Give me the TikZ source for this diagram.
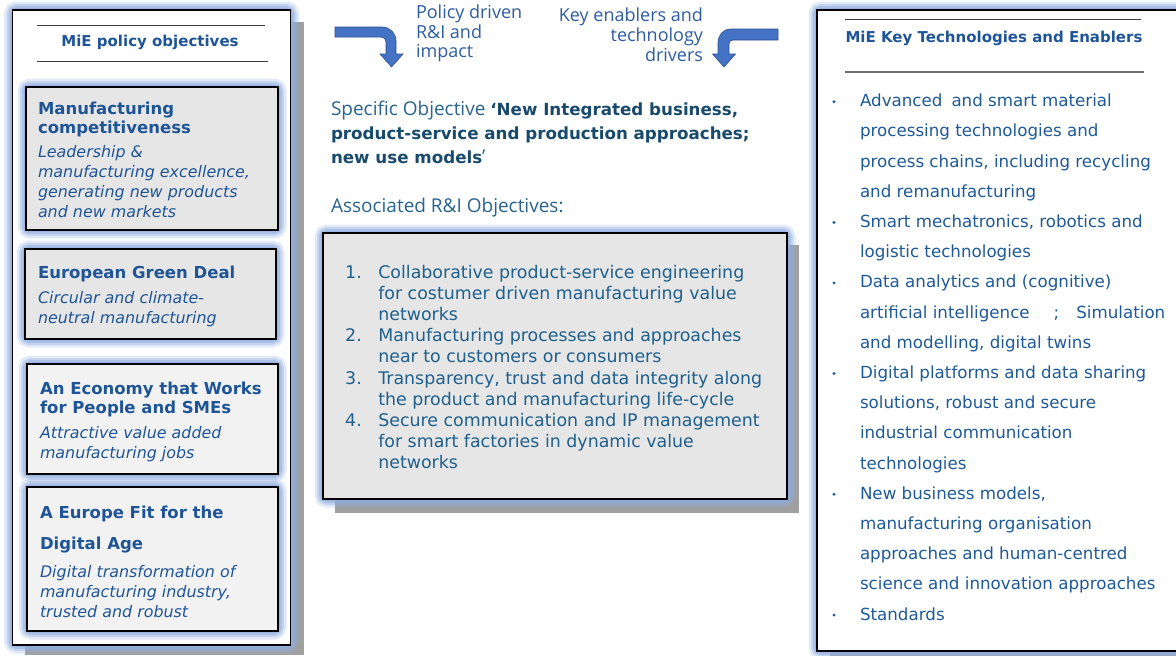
\documentclass[tikz,border=0pt]{standalone}
\usepackage{fontspec}
\setmainfont{DejaVu Sans}
\newfontfamily\segfont{Open Sans}
\definecolor{tblue}{RGB}{31,85,150}
\definecolor{lblue}{RGB}{31,90,152}
\definecolor{mtxt}{RGB}{31,96,140}
\definecolor{sobj}{RGB}{24,74,108}
\definecolor{sobjr}{RGB}{40,100,140}
\definecolor{lab}{RGB}{46,92,160}
\definecolor{arrf}{RGB}{68,114,196}
\definecolor{arrd}{RGB}{47,82,143}
\definecolor{glowc}{RGB}{145,175,225}
\definecolor{shadc}{RGB}{160,160,160}
\definecolor{boxg}{RGB}{230,230,230}
\definecolor{boxl}{RGB}{242,242,242}
\definecolor{hline}{RGB}{60,60,60}
\newcommand{\FS}[2]{\fontsize{#1}{#2}\selectfont}
\newcommand{\glowrect}[4]{\foreach \gw/\go in {17/0.25,12/0.35,8/0.5,4/0.65}{\draw[glowc,line width=\gw pt,opacity=\go,rounded corners=4pt] (#1,#2) rectangle (#3,#4);}}
\begin{document}
\begin{tikzpicture}[x=1pt,y=-1pt,
  txt/.style={anchor=north west,inner sep=0pt,outer sep=0pt,align=left},
  boxline/.style={draw=black,line width=1.2pt},
  outline/.style={draw=black,line width=1.5pt},
  hl/.style={draw=hline,line width=0.9pt},
  btitle/.style={txt,text=tblue,font=\bfseries\FS{16.5}{19.5}},
  bdesc/.style={txt,text=tblue,font=\itshape\FS{15.9}{20}},
  arrowshape/.style={fill=arrf,draw=arrd,line width=0.6pt}]
\useasboundingbox (0,0) rectangle (1176,656);
\fill[white] (0,0) rectangle (1176,656);

% ---------------- left panel ----------------
\fill[shadc] (25,22) rectangle (304,655);
\glowrect{12.5}{10}{290.5}{645}
\draw[outline,fill=white] (12.5,10) rectangle (290.5,645);
\draw[hl] (37,25) -- (265,25);
\draw[hl] (37,61) -- (268,61);
\node[anchor=base,inner sep=0pt,text=tblue,font=\bfseries\FS{15}{18}] (lt) at (150,46) {MiE policy objectives};

\glowrect{26}{87}{278}{230}
\draw[boxline,fill=boxg] (26,87) rectangle (278,230);
\node[btitle] (b1h) at (38,97.5) {\rule{0pt}{16.5pt}Manufacturing\\competitiveness};
\node[bdesc] (b1d) at (38,141.6) {\rule{0pt}{15.9pt}Leadership \&\\manufacturing excellence,\\generating new products\\and new markets};

\glowrect{25}{249}{276}{339}
\draw[boxline,fill=boxg] (25,249) rectangle (276,339);
\node[btitle] (b2h) at (38,261.8) {\rule{0pt}{16.5pt}European Green Deal};
\node[bdesc] (b2d) at (38,287.4) {\rule{0pt}{15.9pt}Circular and climate-\\neutral manufacturing};

\glowrect{27}{364}{278}{474}
\draw[boxline,fill=boxl] (27,364) rectangle (278,474);
\node[btitle] (b3h) at (40,377.5) {\rule{0pt}{16.5pt}An Economy that Works\\for People and SMEs};
\node[bdesc] (b3d) at (40,422.4) {\rule{0pt}{15.9pt}Attractive value added\\manufacturing jobs};

\glowrect{27}{487}{278}{631}
\draw[boxline,fill=boxl] (27,487) rectangle (278,631);
\node[btitle,font=\bfseries\FS{16.5}{30.7}] (b4h) at (40,501.8) {\rule{0pt}{16.5pt}A Europe Fit for the\\Digital Age};
\node[bdesc] (b4d) at (40,561.4) {\rule{0pt}{15.9pt}Digital transformation of\\manufacturing industry,\\trusted and robust};

% ---------------- middle ----------------
\fill[arrowshape] (335,27) -- (382,27) .. controls (390,27) and (396,33) .. (396,41)
  -- (396,54) -- (403,54) -- (391.5,67) -- (380,54) -- (386,54) -- (386,42)
  .. controls (386,39) and (384,37) .. (381,37) -- (335,37) -- cycle;
\fill[arrowshape] (778,29) -- (731,29) .. controls (723,29) and (718,35) .. (718,43)
  -- (718,54) -- (712.5,54) -- (724,67) -- (735.5,54) -- (729,54) -- (729,44)
  .. controls (729,41.5) and (730.5,40) .. (733,40) -- (778,40) -- cycle;
\node[txt,text=lab,font=\segfont\FS{18}{19.5}] (lp) at (416,0.5) {\rule{0pt}{18pt}Policy driven\\R\&I and\\impact};
\node[anchor=north east,inner sep=0pt,outer sep=0pt,align=right,text=lab,font=\segfont\FS{18}{20}] (lk) at (703,3.7) {\rule{0pt}{18pt}Key enablers and\\technology\\drivers};

\node[txt,text=sobj,font=\FS{16.7}{24.2}] (so) at (331,96) {\rule{0pt}{19pt}{\segfont\color{sobjr}\FS{19}{24.2}Specific Objective }{\bfseries ‘New Integrated business,}\\{\bfseries product-service and production approaches;}\\{\bfseries new use models}{\segfont\color{sobjr}\FS{19}{24.2}’}};
\node[txt,text=sobjr,font=\segfont\FS{19}{24}] (ao) at (331,193.3) {\rule{0pt}{19pt}Associated R\&I Objectives:};

\fill[shadc] (335,245) rectangle (799,513);
\glowrect{323}{233}{787}{499}
\draw[outline,fill=boxg] (323,233) rectangle (787,499);
\node[anchor=base west,inner sep=0pt,text=mtxt,font=\FS{17.4}{21.1}] (n1) at (345,278.5) {1.};
\node[anchor=base west,inner sep=0pt,text=mtxt,font=\FS{17.4}{21.1}] (n2) at (345,341.8) {2.};
\node[anchor=base west,inner sep=0pt,text=mtxt,font=\FS{17.4}{21.1}] (n3) at (345,384.0) {3.};
\node[anchor=base west,inner sep=0pt,text=mtxt,font=\FS{17.4}{21.1}] (n4) at (345,426.2) {4.};
\node[txt,text=mtxt,font=\FS{17.4}{21.1}] (ol) at (378.3,261.1) {\rule{0pt}{17.4pt}Collaborative product-service engineering\\for costumer driven manufacturing value\\networks\\Manufacturing processes and approaches\\near to customers or consumers\\Transparency, trust and data integrity along\\the product and manufacturing life-cycle\\Secure communication and IP management\\for smart factories in dynamic value\\networks};

% ---------------- right panel ----------------
\fill[shadc] (830,651) rectangle (1190,660);
\glowrect{817}{10}{1190}{651}
\draw[outline,fill=white] (817,10) rectangle (1190,651);
\draw[hl] (845,19) -- (1141,19);
\draw[hl,draw=hline!75,line width=1.2pt] (845,72) -- (1144,72);
\node[anchor=base,inner sep=0pt,text=tblue,font=\bfseries\FS{15}{18}] (rt) at (994,42.7) {MiE Key Technologies and Enablers};
\node[txt,text=lblue,font=\FS{16.7}{30.2}] (kl) at (860,90) {\rule{0pt}{16.7pt}Advanced\hspace{9pt}and smart material\\processing technologies and\\process chains, including recycling\\and remanufacturing\\Smart mechatronics, robotics and\\logistic technologies\\Data analytics and (cognitive)\\artificial intelligence\hspace{24pt};\hspace{17pt}Simulation\\and modelling, digital twins\\Digital platforms and data sharing\\solutions, robust and secure\\industrial communication\\technologies\\New business models,\\manufacturing organisation\\approaches and human-centred\\science and innovation approaches\\Standards};
\foreach \i in {0,4,6,9,13,17} \fill[lblue] (834,106.7+30.2*\i-5) circle (1.6pt);
\end{tikzpicture}
\end{document}
